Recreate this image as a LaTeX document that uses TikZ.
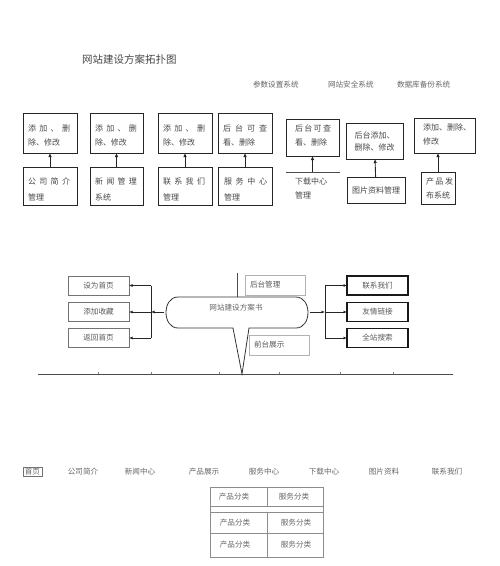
\documentclass[tikz,border=0pt]{standalone}
\usepackage{fontspec}
\setmainfont{Noto Sans CJK SC}
\usetikzlibrary{arrows.meta,fit}
\newcommand\jl[2]{\makebox[#1][s]{#2}}
\begin{document}
\begin{tikzpicture}[x=1pt,y=-1pt,
  txt/.style={inner sep=0pt,outer sep=0pt,text=black!72,font=\fontsize{8}{9}\selectfont},
  ltxt/.style={inner sep=0pt,outer sep=0pt,text=black!60,font=\fontsize{7.6}{9}\selectfont},
  bx/.style={draw=black!85,line width=0.9pt,inner sep=0pt,outer sep=0pt},
  arr/.style={-{Latex[length=4pt,width=3.5pt]},line width=0.9pt,draw=black!85},
  marr/.style={-{Latex[length=3.5pt,width=3pt]},line width=0.8pt,draw=black!85},
  mline/.style={line width=0.8pt,draw=black!85},
  lb/.style={draw=black!55,line width=0.7pt,minimum width=61pt,minimum height=19pt,inner sep=0pt,outer sep=0pt,text=black!65,font=\fontsize{7.6}{9}\selectfont},
  rb/.style={draw=black!90,line width=1.1pt,minimum width=61pt,minimum height=19pt,inner sep=0pt,outer sep=0pt,text=black!65,font=\fontsize{7.6}{9}\selectfont},
  gb/.style={draw=black!30,line width=0.7pt,minimum height=20pt,text width=50pt,inner xsep=5pt,inner ysep=0pt,outer sep=0pt,align=left,anchor=north west,text=black!65,font=\fontsize{7.6}{9}\selectfont},
  tl/.style={draw=black!45,line width=0.6pt}
]
\useasboundingbox (0,0) rectangle (500,566);

% title and header labels
\node[txt,anchor=west,font=\fontsize{10.5}{12}\selectfont] (title) at (82,59) {网站建设方案拓扑图};
\node[ltxt,anchor=west] (h1) at (253,85) {参数设置系统};
\node[ltxt,anchor=west] (h2) at (328,85) {网站安全系统};
\node[ltxt,anchor=west] (h3) at (397,85) {数据库备份系统};

% top row boxes
\node[bx,fit={(23,113) (77,153)}] (t1) {};
\node[bx,fit={(23,167) (77,205)}] (b1) {};
\node[bx,fit={(90,113) (143,153)}] (t2) {};
\node[bx,fit={(90,167) (143,205)}] (b2) {};
\node[bx,fit={(158,113) (212,153)}] (t3) {};
\node[bx,fit={(158,167) (212,205)}] (b3) {};
\node[bx,fit={(218,113) (272,153)}] (t4) {};
\node[bx,fit={(218,167) (272,205)}] (b4) {};
\node[bx,fit={(286,119) (339,156)}] (t5) {};
\coordinate (b5l) at (286,172);
\coordinate (b5r) at (340,172);
\coordinate (b5m) at (312.5,172);
\node[bx,fit={(346,123) (403,159)}] (t6) {};
\node[bx,fit={(347,177) (405,203)}] (b6) {};
\node[bx,fit={(414,118) (475,153)}] (t7) {};
\node[bx,fit={(421,172) (455,204)}] (b7) {};

\draw[arr] (b1) -- (t1);
\draw[arr] (b2) -- (t2);
\draw[arr] (b3) -- (t3);
\draw[arr] (b4) -- (t4);
\draw[line width=0.8pt,draw=black!70] (b5l) -- (b5r);
\draw[arr] (b5m) -- (t5.south);
\draw[arr] (b6) -- (t6);
\draw[arr] (b7.north) -- (b7.north |- t7.south);

% texts in top boxes
\node[txt,anchor=west] (t1a) at (28,128) {\jl{42pt}{添\hfill 加\hfill 、\hfill 删}};
\node[txt,anchor=west] (t1b) at (28,142) {除、修改};
\node[txt,anchor=west] (b1a) at (28,181) {\jl{42pt}{公\hfill 司\hfill 简\hfill 介}};
\node[txt,anchor=west] (b1b) at (28,197) {管理};
\node[txt,anchor=west] (t2a) at (95,128) {\jl{42pt}{添\hfill 加\hfill 、\hfill 删}};
\node[txt,anchor=west] (t2b) at (95,142) {除、修改};
\node[txt,anchor=west] (b2a) at (95,181) {\jl{42pt}{新\hfill 闻\hfill 管\hfill 理}};
\node[txt,anchor=west] (b2b) at (95,197) {系统};
\node[txt,anchor=west] (t3a) at (163,128) {\jl{42pt}{添\hfill 加\hfill 、\hfill 删}};
\node[txt,anchor=west] (t3b) at (163,142) {除、修改};
\node[txt,anchor=west] (b3a) at (163,181) {\jl{42pt}{联\hfill 系\hfill 我\hfill 们}};
\node[txt,anchor=west] (b3b) at (163,197) {管理};
\node[txt,anchor=west] (t4a) at (223,128) {\jl{44pt}{后\hfill 台\hfill 可\hfill 查}};
\node[txt,anchor=west] (t4b) at (223,142) {看、删除};
\node[txt,anchor=west] (b4a) at (224,181) {\jl{43pt}{服\hfill 务\hfill 中\hfill 心}};
\node[txt,anchor=west] (b4b) at (224,197) {管理};
\node[txt,anchor=west] (t5a) at (295,128) {\jl{36pt}{后\hfill 台\hfill 可\hfill 查}};
\node[txt,anchor=west] (t5b) at (295,142) {看、删除};
\node[txt,anchor=west] (b5a) at (295,181) {下载中心};
\node[txt,anchor=west] (b5b) at (295,195) {管理};
\node[txt] (t6a) at (374.5,135) {后台添加、};
\node[txt] (t6b) at (374.5,147) {删除、修改};
\node[txt] (b6a) at (376,190) {图片资料管理};
\node[txt,anchor=west] (t7a) at (423,127) {添加、删除、};
\node[txt,anchor=west] (t7b) at (423,141) {修改};
\node[txt,anchor=west] (b7a) at (426,181) {\jl{27pt}{产\hfill 品\hfill 发}};
\node[txt,anchor=west] (b7b) at (426,195) {布系统};

% middle section
\draw[line width=0.7pt,draw=black!70] (237,273) -- (237,297);
\node[gb] (hq) at (245,275) {后台管理};
\node[gb] (qt) at (249,335) {前台展示};

\draw[line width=0.8pt,draw=black!80,fill=white]
  (249,328) -- (296,328) .. controls (312,328) and (312,297) .. (296,297)
  -- (178,297) .. controls (162,297) and (162,328) .. (178,328)
  -- (233,328) -- (242,374) -- cycle;
\node[ltxt] (cs) at (236,308) {网站建设方案书};
\coordinate (csL) at (164,312);
\coordinate (csR) at (310,312);

% horizontal line with ticks
\coordinate (hl) at (38,374);
\coordinate (hr) at (453,374);
\draw[line width=0.7pt,draw=black!70] (hl) -- (hr);
\foreach \tx in {98,151,219,279,340,393}{\draw[line width=0.5pt,draw=black!50] (\tx,374) -- (\tx,372);}

\node[lb] (l1) at (98.5,285.5) {设为首页};
\node[lb] (l2) at (98.5,312) {添加收藏};
\node[lb] (l3) at (98.5,338) {返回首页};
\coordinate (lbus) at (151,312);
\draw[marr] (csL) -- (lbus);
\draw[mline] (lbus |- l1.east) -- (lbus |- l3.east);
\draw[marr] (lbus |- l1.east) -- (l1.east);
\draw[marr] (lbus |- l2.east) -- (l2.east);
\draw[marr] (lbus |- l3.east) -- (l3.east);

\node[rb] (r1) at (377.5,285.5) {联系我们};
\node[rb] (r2) at (377.5,312) {友情链接};
\node[rb] (r3) at (377.5,338) {全站搜索};
\coordinate (rbus) at (325,312);
\draw[marr] (csR) -- (rbus);
\draw[mline] (rbus |- r1.west) -- (rbus |- r3.west);
\draw[marr] (rbus |- r1.west) -- (r1.west);
\draw[marr] (rbus |- r2.west) -- (r2.west);
\draw[marr] (rbus |- r3.west) -- (r3.west);

% navigation bar
\node[ltxt,draw=black!55,line width=0.5pt,inner xsep=2pt,inner ysep=1pt] (n0) at (32.5,472) {首页};
\node[ltxt] (n1) at (83,472) {公司简介};
\node[ltxt] (n2) at (140,472) {新闻中心};
\node[ltxt] (n3) at (204,472) {产品展示};
\node[ltxt] (n4) at (264,472) {服务中心};
\node[ltxt] (n5) at (324,472) {下载中心};
\node[ltxt] (n6) at (384,472) {图片资料};
\node[ltxt] (n7) at (447,472) {联系我们};

% table
\draw[tl] (210,487) rectangle (323,557);
\draw[tl] (210,506) -- (323,506);
\draw[tl] (210,512) -- (323,512);
\draw[tl] (210,533) -- (323,533);
\draw[tl] (267,487) -- (267,506);
\draw[tl] (267,512) -- (267,557);
\node[ltxt] (c11) at (234,496.5) {产品分类};
\node[ltxt] (c12) at (294,496.5) {服务分类};
\node[ltxt] (c21) at (235,522.5) {产品分类};
\node[ltxt] (c22) at (296,522.5) {服务分类};
\node[ltxt] (c31) at (235,545) {产品分类};
\node[ltxt] (c32) at (296,545) {服务分类};
\end{tikzpicture}
\end{document}
